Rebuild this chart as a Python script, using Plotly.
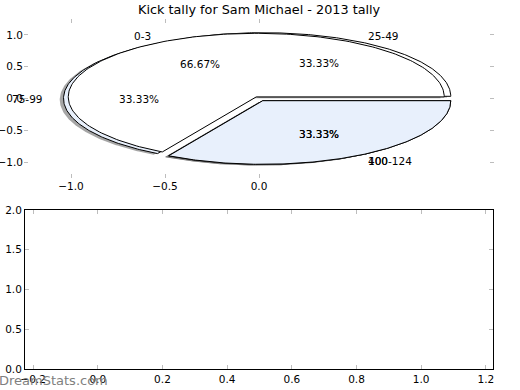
import numpy as np
import plotly.graph_objects as go

# ---- data ----
title = "Kick tally for Sam Michael - 2013 tally"
pie_back_labels = ["25-49", "75-99", "100-124"]
pie_back_values = [1, 1, 1]
pie_front_labels = ["0-3", "400"]
pie_front_values = [2, 1]

# ---- style ----
pie_back_explode = [0.04, 0.04, 0.04]
pie_front_explode = [0.029, 0.04]
pie_back_colors = ["white", "rgb(232,240,252)", "white"]
pie_front_colors = ["white", "rgb(232,240,252)"]
FONT = "DejaVu Sans"
TICKCOL = "#bdbdbd"


def wedges(values, explode, colors):
    total = float(sum(values))
    out = []
    a0 = 0.0
    for v, e, c in zip(values, explode, colors):
        a1 = a0 + 360.0 * v / total
        mid = np.deg2rad((a0 + a1) / 2)
        cx, cy = e * np.cos(mid), e * np.sin(mid)
        t = np.deg2rad(np.linspace(a0, a1, 200))
        xs = np.concatenate([[cx], cx + np.cos(t), [cx]])
        ys = np.concatenate([[cy], cy + np.sin(t), [cy]])
        out.append(dict(x=xs, y=ys, cx=cx, cy=cy, mid=mid, frac=v / total, color=c))
        a0 = a1
    return out


back = wedges(pie_back_values, pie_back_explode, pie_back_colors)
front = wedges(pie_front_values, pie_front_explode, pie_front_colors)

fig = go.Figure()

# shadows (below all wedges)
for w in back + front:
    fig.add_trace(go.Scatter(x=w["x"] - 0.02, y=w["y"] - 0.02, mode="lines", fill="toself",
                             fillcolor="rgba(77,77,77,0.5)", line=dict(width=0),
                             hoverinfo="skip", showlegend=False, xaxis="x", yaxis="y"))
# wedges
for w in back + front:
    fig.add_trace(go.Scatter(x=w["x"], y=w["y"], mode="lines", fill="toself",
                             fillcolor=w["color"], line=dict(color="black", width=1),
                             hoverinfo="skip", showlegend=False, xaxis="x", yaxis="y"))

# empty lower axes
fig.add_trace(go.Scatter(x=[], y=[], xaxis="x2", yaxis="y2", showlegend=False))

annotations = []
for ws, labels in ((back, pie_back_labels), (front, pie_front_labels)):
    for w, lab in zip(ws, labels):
        lx = w["cx"] + 1.1 * np.cos(w["mid"])
        ly = w["cy"] + 1.1 * np.sin(w["mid"])
        annotations.append(dict(x=lx, y=ly, xref="x", yref="y", text=lab, showarrow=False,
                                xanchor="left" if lx > 0 else "right", yanchor="middle",
                                font=dict(family=FONT, size=10.5, color="black")))
        px = w["cx"] + 0.6 * np.cos(w["mid"])
        py = w["cy"] + 0.6 * np.sin(w["mid"])
        annotations.append(dict(x=px, y=py, xref="x", yref="y", text="%.2f%%" % (100 * w["frac"]),
                                showarrow=False, xanchor="center", yanchor="middle",
                                font=dict(family=FONT, size=10.5, color="black")))

annotations.append(dict(x=259 / 520, y=(390 - 9) / 390, xref="paper", yref="paper", text=title,
                        showarrow=False, xanchor="center", yanchor="middle",
                        font=dict(family=FONT, size=12.8, color="black")))
annotations.append(dict(x=0, y=(390 - 380) / 390, xref="paper", yref="paper", text="DreamStats.com",
                        showarrow=False, xanchor="left", yanchor="middle", xshift=-3,
                        font=dict(family=FONT, size=13, color="rgb(128,128,128)")))


def fmt(v):
    s = "%.1f" % v
    return s.replace("-", "\u2212")


top_xt = [-1.0, -0.5, 0.0]
top_yt = [-1.0, -0.5, 0.0, 0.5, 1.0]
bot_xt = [-0.2, 0.0, 0.2, 0.4, 0.6, 0.8, 1.0, 1.2]
bot_yt = [0.0, 0.5, 1.0, 1.5, 2.0]

common = dict(ticks="inside", ticklen=4, tickwidth=1, tickcolor=TICKCOL, showgrid=False,
              zeroline=False, tickfont=dict(family=FONT, size=10.5, color="black"),
              mirror="ticks", tickmode="array", automargin=False)

xdom = [24 / 520, 494 / 520]
fig.update_layout(
    width=520, height=390, margin=dict(l=0, r=0, t=0, b=0, pad=0, autoexpand=False),
    paper_bgcolor="white", plot_bgcolor="white",
    xaxis=dict(domain=xdom, range=[-1.25, 1.25], anchor="y", showline=False,
               tickvals=top_xt, ticktext=[fmt(v) for v in top_xt], **common),
    yaxis=dict(domain=[(390 - 178) / 390, (390 - 19) / 390], range=[-1.25, 1.25], anchor="x",
               showline=False, tickvals=top_yt, ticktext=[fmt(v) for v in top_yt], **common),
    xaxis2=dict(domain=[25 / 520, 493 / 520], range=[-0.225, 1.222], anchor="y2", showline=True,
                linecolor="black", linewidth=1,
                tickvals=bot_xt, ticktext=[fmt(v) for v in bot_xt], **common),
    yaxis2=dict(domain=[(390 - 369) / 390, (390 - 210) / 390], range=[0, 2], anchor="x2",
                showline=True, linecolor="black", linewidth=1,
                tickvals=bot_yt, ticktext=[fmt(v) for v in bot_yt], **common),
    annotations=annotations,
)

fig.write_html("out.html", config={"displayModeBar": False},
               post_script="document.body.style.margin='0';")
